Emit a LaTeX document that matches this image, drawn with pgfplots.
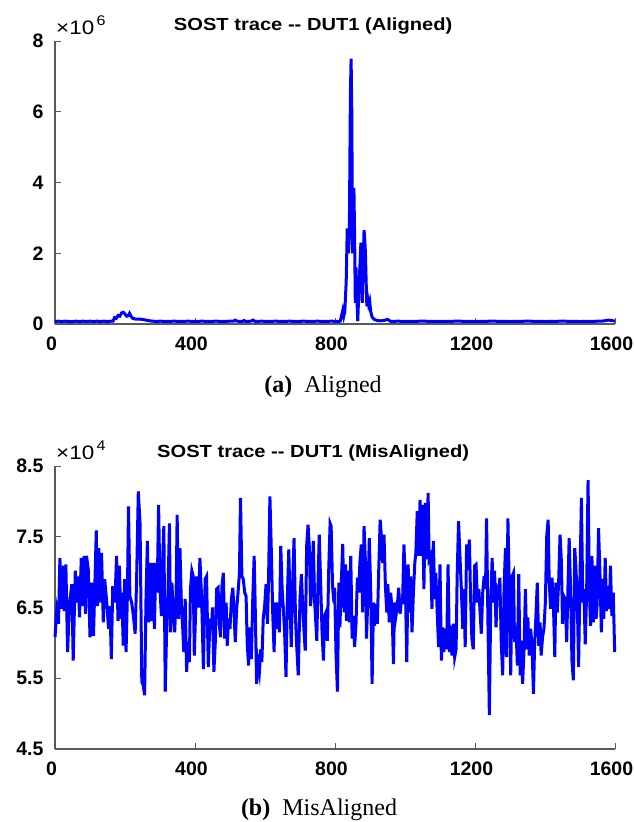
\documentclass[border=0pt]{standalone}
\usepackage{fontspec}
\setmainfont{Liberation Serif}
\newfontfamily\arial{Liberation Sans}
\newfontfamily\arialwide[FakeStretch=1.15]{Liberation Sans}
\usepackage{pgfplots}
\pgfplotsset{compat=1.18}

\pgfplotsset{
  trace/.style={
    scale only axis, width=560pt, height=283pt,
    xmin=0, xmax=1600, enlargelimits=false,
    axis x line*=bottom, axis y line*=left,
    axis line style={-, black!65, line width=1.2pt},
    tick align=inside, major tick length=6pt,
    tick style={black!65, line width=1pt},
    xtick={0,400,800,1200,1600}, xticklabels={0,400,800,1200,1600},
    ticklabel style={font=\arial\bfseries\fontsize{19.5}{22}\selectfont},
    yticklabel style={xshift=-8pt},
    xticklabel style={yshift=-9pt, xshift=-3.5pt},
    title style={at={(0.461,1)}, anchor=base,
      font=\arialwide\bfseries\fontsize{17.5}{22}\selectfont},
    clip=false,
  },
}

\begin{document}
\begin{tikzpicture}
\path[use as bounding box] (-55pt,-498pt) rectangle (578pt,324pt);

% (a) aligned
\begin{axis}[trace, at={(0pt,0pt)}, anchor=south west,
  ymin=0, ymax=8, ytick={0,2,4,6,8}, yticklabels={0,2,4,6,8},
  title style={yshift=5pt},
  title={SOST trace -{}- DUT1 (Aligned)}]
\addplot[blue, line width=3pt] coordinates {
(0,0.07) (10,0.08) (20,0.07) (30,0.08) (40,0.07) (50,0.07) (60,0.08) (70,0.07)
(80,0.08) (90,0.07) (100,0.08) (110,0.07) (120,0.08) (130,0.07) (140,0.08)
(150,0.07) (160,0.08) (166,0.08) (170,0.18) (175,0.16) (180,0.24) (185,0.22)
(190,0.31) (195,0.33) (200,0.28) (205,0.22) (210,0.24) (213,0.30) (217,0.22)
(222,0.16) (230,0.14) (240,0.14) (250,0.13) (260,0.11) (270,0.09) (280,0.08)
(290,0.07) (300,0.08) (320,0.07) (340,0.08) (360,0.07) (380,0.08) (400,0.07)
(420,0.08) (440,0.07) (460,0.08) (480,0.07) (500,0.08) (510,0.08) (515,0.11)
(520,0.08) (535,0.07) (540,0.10) (545,0.07) (560,0.08) (566,0.11) (572,0.07)
(590,0.08) (610,0.07) (630,0.08) (650,0.07) (670,0.08) (690,0.07) (710,0.08)
(730,0.07) (750,0.08) (770,0.07) (790,0.08) (810,0.07) (815,0.08) (818,0.20)
(822,0.38) (825,0.22) (828,0.35) (832,1.20) (835,2.70) (838,2.00) (841,2.60)
(844,6.50) (846,7.50) (848,6.00) (850,2.00) (852,3.40) (854,3.85) (856,2.50)
(858,0.60) (860,1.60) (862,0.90) (865,0.08) (868,0.90) (871,1.60) (874,2.30)
(876,1.20) (878,0.60) (880,1.50) (883,2.65) (885,2.40) (887,2.00) (889,1.20)
(891,0.50) (893,0.75) (896,0.55) (899,0.65) (902,0.35) (906,0.20) (912,0.13)
(920,0.10) (930,0.09) (940,0.10) (950,0.13) (955,0.10) (960,0.07) (980,0.08)
(1000,0.07) (1050,0.08) (1100,0.07) (1150,0.08) (1200,0.07) (1250,0.08)
(1300,0.07) (1350,0.08) (1400,0.07) (1450,0.08) (1500,0.07) (1560,0.08)
(1570,0.09) (1580,0.11) (1590,0.10) (1600,0.08)
};
\end{axis}
\node[anchor=base west, inner sep=0pt, font=\arialwide\fontsize{19.5}{22}\selectfont]
  at (1pt,289pt) {×10\raisebox{9pt}{\fontsize{14}{15}\selectfont\,6}};
\node[anchor=base, font=\fontsize{24}{27}\selectfont] at (268pt,-68pt)
  {\textbf{(a)}\enspace Aligned};

% (b) misaligned
\begin{axis}[trace, at={(0pt,-425pt)}, anchor=south west,
  ymin=4.5, ymax=8.5, ytick={4.5,5.5,6.5,7.5,8.5},
  yticklabels={4.5,5.5,6.5,7.5,8.5},
  title style={yshift=3pt},
  title={SOST trace -{}- DUT1 (MisAligned)}]
\addplot[blue, line width=3pt] coordinates {
(0,6.08) (5,6.45) (10,6.27) (14,7.20) (19,6.48) (22,7.09) (26,6.45) (31,7.11)
(36,5.87) (41,6.52) (48,6.83) (52,5.75) (58,7.02) (62,6.57) (66,6.94) (70,6.36)
(75,7.20) (79,6.52) (83,7.23) (87,6.41) (90,7.23) (95,7.04) (100,6.08) (105,6.85)
(110,6.10) (114,6.85) (118,7.59) (121,6.52) (125,7.34) (129,6.57) (133,7.27)
(138,6.29) (142,6.90) (148,6.57) (153,6.20) (157,6.52) (161,5.77) (165,6.80)
(171,6.57) (176,7.23) (180,6.31) (184,7.09) (188,6.34) (191,6.71) (195,5.96)
(199,6.90) (203,5.87) (207,6.71) (210,7.93) (214,6.66) (219,6.57) (224,6.38)
(229,6.13) (233,6.85) (238,8.14) (243,7.69) (248,5.45) (252,5.40) (256,5.26)
(260,6.62) (264,7.44) (268,6.29) (271,7.13) (275,6.31) (279,7.13) (284,6.20)
(288,7.13) (292,6.71) (296,7.95) (300,6.76) (304,6.38) (308,7.23) (311,7.65)
(315,5.31) (319,6.20) (323,6.76) (327,7.69) (330,6.15) (334,6.85) (338,6.41)
(342,6.15) (346,6.66) (349,7.81) (353,6.34) (357,7.34) (361,6.57) (365,6.20)
(368,5.87) (372,6.62) (376,5.59) (380,6.01) (384,5.73) (387,6.76) (391,7.02)
(395,6.94) (398,5.82) (405,6.94) (410,6.50) (414,7.20) (419,6.62) (424,5.63)
(429,6.90) (433,6.94) (438,5.66) (443,6.34) (447,6.20) (450,6.50) (454,5.59)
(458,6.01) (462,6.76) (466,6.78) (470,6.24) (473,6.08) (477,6.80) (481,6.99)
(485,6.06) (489,6.57) (492,5.96) (496,6.34) (500,6.20) (504,6.62) (508,6.78)
(511,6.52) (515,6.01) (519,6.48) (523,6.71) (527,6.99) (530,8.05) (534,6.94)
(538,6.90) (542,6.71) (546,6.66) (549,6.01) (553,5.68) (557,6.22) (561,5.77)
(565,6.62) (569,7.23) (572,6.52) (576,5.42) (580,5.73) (584,5.59) (588,5.91)
(591,5.73) (595,6.34) (599,6.52) (603,6.83) (607,6.27) (610,6.85) (614,8.07)
(618,7.32) (622,6.43) (626,5.87) (629,6.57) (633,6.20) (637,6.57) (641,6.15)
(645,7.37) (649,6.76) (652,6.52) (656,6.15) (660,5.52) (664,6.66) (668,7.32)
(671,6.66) (675,5.94) (679,6.85) (683,7.48) (687,6.38) (690,6.01) (695,5.54)
(700,6.62) (704,6.97) (708,6.48) (711,6.20) (715,5.89) (719,7.37) (723,7.67)
(727,7.32) (730,6.52) (734,6.76) (738,7.44) (742,6.57) (748,6.03) (751,6.76)
(755,7.53) (759,6.85) (763,6.15) (767,5.75) (770,6.38) (774,6.43) (778,6.03)
(782,7.02) (786,7.69) (789,7.65) (793,6.80) (797,6.57) (799,6.78) (803,5.82)
(807,5.31) (811,6.85) (814,6.22) (818,6.85) (822,7.40) (826,6.43) (830,7.11)
(833,6.31) (837,7.02) (841,6.29) (845,7.23) (849,6.06) (852,6.38) (856,5.94)
(860,6.27) (864,6.92) (868,6.71) (871,7.13) (875,7.39) (879,6.43) (883,7.65)
(887,7.13) (890,6.06) (894,6.66) (898,7.48) (902,6.76) (906,5.42) (910,6.57)
(913,6.24) (917,6.55) (921,6.27) (925,7.04) (929,7.74) (932,7.55) (936,7.13)
(940,7.53) (944,6.80) (948,6.43) (951,6.83) (955,6.29) (959,6.71) (963,6.48)
(967,5.70) (970,6.57) (974,6.38) (978,6.52) (982,6.78) (986,6.41) (989,6.57)
(993,6.57) (997,7.39) (1001,6.85) (1005,5.73) (1009,7.11) (1012,6.43) (1016,6.94)
(1020,6.15) (1024,6.71) (1028,7.13) (1031,7.27) (1035,7.86) (1039,7.23)
(1043,8.02) (1047,7.23) (1050,7.95) (1054,6.76) (1058,7.98) (1062,7.18)
(1066,8.12) (1069,7.18) (1073,7.23) (1077,6.48) (1081,7.44) (1085,6.62)
(1088,6.99) (1092,6.43) (1096,5.94) (1100,7.11) (1104,5.75) (1108,6.22)
(1111,5.87) (1115,6.20) (1119,5.91) (1123,7.11) (1127,5.87) (1130,6.24)
(1134,5.82) (1138,6.27) (1142,5.80) (1146,5.91) (1149,6.94) (1153,7.72)
(1157,7.23) (1161,6.76) (1165,6.20) (1168,6.76) (1172,5.94) (1176,7.39)
(1180,7.23) (1184,7.46) (1187,6.71) (1191,6.06) (1195,5.91) (1199,7.09)
(1203,7.11) (1207,6.57) (1211,6.76) (1214,6.48) (1218,6.13) (1222,6.71)
(1226,6.94) (1230,6.76) (1233,7.76) (1237,6.29) (1241,4.98) (1245,6.57)
(1249,7.20) (1252,6.57) (1256,7.02) (1260,6.22) (1264,6.76) (1268,6.71)
(1271,6.92) (1275,6.01) (1279,5.54) (1283,6.76) (1287,7.34) (1290,5.80)
(1294,7.76) (1298,6.76) (1302,5.54) (1306,6.94) (1310,6.99) (1313,6.01)
(1317,6.24) (1321,5.68) (1325,6.97) (1329,5.54) (1332,6.03) (1336,5.42)
(1340,5.89) (1344,6.76) (1348,5.91) (1351,6.36) (1355,5.82) (1359,6.20)
(1363,5.96) (1367,5.28) (1370,5.91) (1374,6.38) (1378,6.85) (1382,5.96)
(1386,6.29) (1389,5.82) (1393,6.08) (1397,6.20) (1401,6.57) (1405,7.51)
(1409,7.74) (1412,6.87) (1416,6.48) (1420,6.92) (1424,6.55) (1428,5.80)
(1431,6.85) (1435,6.43) (1439,6.87) (1443,7.53) (1447,7.13) (1450,6.27)
(1454,6.66) (1458,6.62) (1462,6.01) (1466,6.87) (1469,7.48) (1473,6.78)
(1477,5.75) (1481,5.47) (1485,7.34) (1488,7.09) (1492,6.66) (1496,5.66)
(1500,6.94) (1504,8.05) (1508,6.57) (1511,6.76) (1515,5.98) (1519,6.73)
(1523,8.30) (1527,6.71) (1530,6.24) (1534,7.23) (1538,6.29) (1542,7.09)
(1546,6.34) (1549,6.55) (1553,7.62) (1557,6.99) (1561,6.15) (1565,6.90)
(1568,6.34) (1572,7.20) (1576,6.45) (1580,6.80) (1584,6.48) (1587,7.09)
(1591,6.38) (1595,6.71) (1599,5.87)
};
\end{axis}
\node[anchor=base west, inner sep=0pt, font=\arialwide\fontsize{19.5}{22}\selectfont]
  at (1pt,-135pt) {×10\raisebox{9pt}{\fontsize{14}{15}\selectfont\,4}};
\node[anchor=base, font=\fontsize{24}{27}\selectfont] at (264pt,-491pt)
  {\textbf{(b)}\enspace MisAligned};
\end{tikzpicture}
\end{document}
